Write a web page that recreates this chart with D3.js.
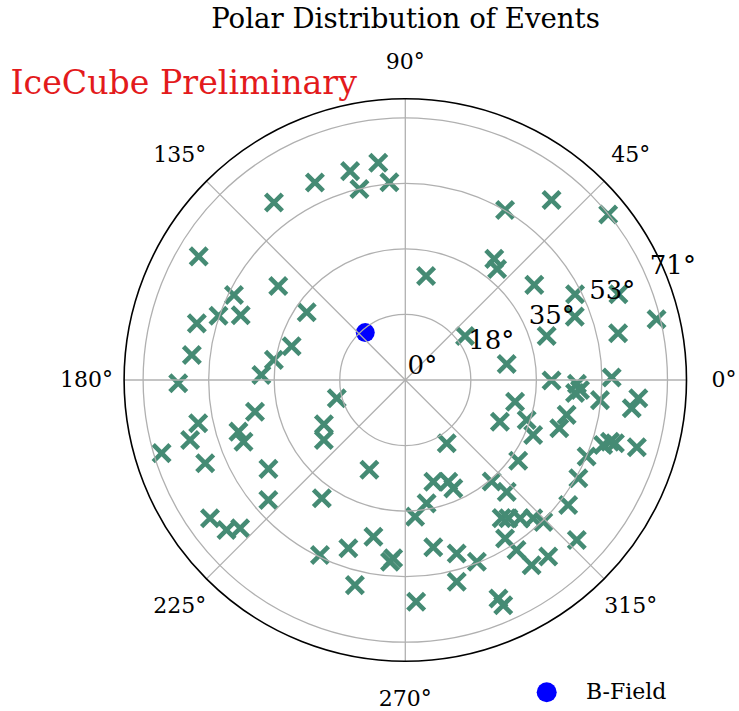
<!DOCTYPE html>
<html>
<head>
<meta charset="utf-8">
<script src="https://cdn.jsdelivr.net/npm/d3@7"></script>
<style>
  html, body { margin: 0; padding: 0; background: #ffffff; }
  svg { display: block; }
  text { font-family: "DejaVu Serif", serif; fill: #000; }
</style>
</head>
<body>
<div id="chart"></div>
<script>
// Event directions: azimuth (deg, counter-clockwise from east) and zenith (deg, radial)
const eventAzimuth = [
  97.1, 104.8, 94.6, 103.5, 114.6, 126.5, 149.1, 143.5, 153.6, 161.0,
  158.5, 164.8, 145.5, 163.5, 171.3, 178.0, 173.3, 180.8,
  50.9, 59.6, 39.2, 53.7, 50.4, 78.7, 36.4, 26.8, 21.9, 20.5,
  13.6, 12.4, 17.3, 36.4, 9.0, 359.8, 0.7,
  358.7, 356.7, 355.6, 354.1, 355.5, 352.9, 348.8, 336.2, 341.8, 347.8,
  342.6, 336.7, 303.2, 343.2, 341.8, 343.2, 343.8, 337.1, 324.4, 330.4,
  285.4, 292.9, 293.9, 279.8, 274.1, 310.4, 312.2, 322.5, 304.9, 306.7,
  309.7, 312.8, 314.2, 302.2, 303.2, 317.0, 279.5, 286.5, 291.5, 304.3,
  309.0, 284.3, 272.8, 293.1, 293.5,
  194.9, 191.9, 191.8, 195.6, 196.7, 202.6, 197.2, 200.9, 208.6, 216.4,
  213.0, 221.2, 248.2, 234.8, 215.3, 220.0, 221.9, 244.0, 251.3, 258.5,
  265.2, 266.1, 256.2
];
const eventZenith = [
  59.3, 58.5, 53.7, 53.2, 58.8, 59.8, 65.2, 42.8, 51.8, 53.5,
  47.9, 58.5, 32.4, 32.1, 36.0, 39.0, 58.2, 61.5,
  62.8, 53.4, 70.9, 40.7, 39.0, 28.7, 43.4, 51.5, 62.2, 49.0,
  70.0, 59.0, 40.1, 20.1, 27.8, 39.6, 55.9,
  46.5, 47.4, 46.1, 53.0, 63.3, 61.8, 30.3, 28.0, 34.6, 44.7,
  43.7, 37.7, 20.5, 57.9, 56.4, 59.3, 65.3, 53.3, 37.6, 53.9,
  28.6, 29.9, 32.1, 33.9, 37.1, 36.1, 40.9, 55.6, 45.6, 46.7,
  48.7, 51.0, 53.6, 50.7, 55.0, 63.5, 45.9, 49.0, 52.9, 60.7,
  61.5, 56.4, 60.1, 64.3, 66.5,
  19.2, 41.6, 57.3, 60.5, 68.9, 58.7, 47.3, 46.9, 25.1, 27.4,
  44.2, 49.3, 26.2, 39.2, 64.8, 63.2, 60.1, 52.7, 48.1, 43.3,
  49.4, 48.4, 57.2
];

// Magnetic field direction
const bFieldAzimuth = [130.2];
const bFieldZenith = [16.8];

// Axis ticks
const radialTicks = [0, 17.75, 35.5, 53.25, 71];
const radialTickLabels = ["0°", "18°", "35°", "53°", "71°"];
const angleTicks = [0, 45, 90, 135, 180, 225, 270, 315];
const angleTickLabels = ["0°", "45°", "90°", "135°", "180°", "225°", "270°", "315°"];
const radialMax = 76.15;

const width = 739, height = 711;
const cx = 405.3, cy = 380, R = 281.2;

const svg = d3.select("#chart").append("svg")
  .attr("width", width).attr("height", height);

const r = d3.scaleLinear().domain([0, radialMax]).range([0, R]);
const toRad = d3.scaleLinear().domain([0, 360]).range([0, 2 * Math.PI]);
const px = (az, zen) => cx + r(zen) * Math.cos(toRad(az));
const py = (az, zen) => cy - r(zen) * Math.sin(toRad(az));

// Title and watermark
svg.append("text")
  .attr("x", 405.5).attr("y", 28.3)
  .attr("text-anchor", "middle")
  .style("font-size", "27.6px")
  .text("Polar Distribution of Events");

svg.append("text")
  .attr("x", 10.5).attr("y", 94.3)
  .style("font-size", "33.2px")
  .style("fill", "#e31a1c")
  .text("IceCube Preliminary");

const plot = svg.append("g");

// Event markers
const events = eventAzimuth.map((a, i) => ({ az: a, zen: eventZenith[i] }));
const a = 8.4;
plot.append("g").selectAll("path")
  .data(events)
  .join("path")
  .attr("transform", d => `translate(${px(d.az, d.zen)},${py(d.az, d.zen)})`)
  .attr("d", `M${-a},${-a}L${a},${a}M${-a},${a}L${a},${-a}`)
  .attr("fill", "none")
  .attr("stroke", "#458b74")
  .attr("stroke-width", 4.6)
  .attr("stroke-linecap", "butt");

// B-field marker
plot.append("g").selectAll("circle")
  .data(bFieldAzimuth.map((b, i) => ({ az: b, zen: bFieldZenith[i] })))
  .join("circle")
  .attr("cx", d => px(d.az, d.zen))
  .attr("cy", d => py(d.az, d.zen))
  .attr("r", 9.5)
  .attr("fill", "#0000ff");

// Grid drawn above the markers
const grid = plot.append("g")
  .attr("fill", "none")
  .attr("stroke", "#b0b0b0")
  .attr("stroke-width", 1.3);

grid.selectAll("circle")
  .data(radialTicks.filter(t => t > 0))
  .join("circle")
  .attr("cx", cx).attr("cy", cy)
  .attr("r", d => r(d));

grid.selectAll("line")
  .data(angleTicks)
  .join("line")
  .attr("x1", cx).attr("y1", cy)
  .attr("x2", d => px(d, radialMax))
  .attr("y2", d => py(d, radialMax));

// Outer boundary
plot.append("circle")
  .attr("cx", cx).attr("cy", cy).attr("r", R)
  .attr("fill", "none")
  .attr("stroke", "#000")
  .attr("stroke-width", 1.6);

// Angular tick labels
const labelR = R + 37.6;
plot.append("g").selectAll("text")
  .data(angleTicks)
  .join("text")
  .attr("x", d => cx + labelR * Math.cos(toRad(d)))
  .attr("y", d => cy - labelR * Math.sin(toRad(d)))
  .attr("dy", "0.34em")
  .attr("text-anchor", "middle")
  .style("font-size", "22px")
  .text((d, i) => angleTickLabels[i]);

// Radial tick labels along 22.5°
const labelAngle = 22.5;
plot.append("g").selectAll("text")
  .data(radialTicks)
  .join("text")
  .attr("x", d => px(labelAngle, d) + 2.3)
  .attr("y", d => py(labelAngle, d) - 5.6)
  .style("font-size", "26px")
  .text((d, i) => radialTickLabels[i]);

// Legend
const legend = svg.append("g");
legend.append("circle")
  .attr("cx", 546.7).attr("cy", 692.3).attr("r", 10)
  .attr("fill", "#0000ff");
legend.append("text")
  .attr("x", 586).attr("y", 698.5)
  .style("font-size", "22px")
  .text("B-Field");
</script>
</body>
</html>
